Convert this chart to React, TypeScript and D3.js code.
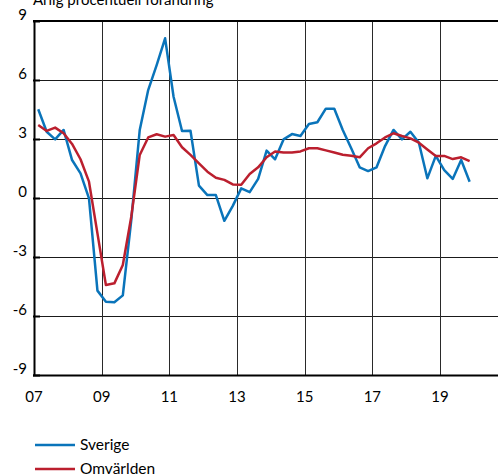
import React from "react";
import * as d3 from "d3";

const yearTicks = [2007, 2009, 2011, 2013, 2015, 2017, 2019];
const yearLabels = ["07", "09", "11", "13", "15", "17", "19"];
const valueTicks = [-9, -6, -3, 0, 3, 6, 9];
const sverige = [4.51, 3.37, 2.98, 3.46, 1.93, 1.25, -0.02, -4.71, -5.27, -5.3, -4.95, -1.12, 3.46, 5.49, 6.76, 8.12, 5.15, 3.41, 3.42, 0.63, 0.15, 0.15, -1.16, -0.4, 0.49, 0.3, 0.97, 2.41, 1.97, 2.98, 3.25, 3.15, 3.76, 3.85, 4.54, 4.54, 3.46, 2.53, 1.56, 1.37, 1.56, 2.64, 3.46, 2.98, 3.37, 2.81, 1.0, 2.14, 1.42, 0.97, 1.93, 0.83];
const omvarlden = [3.71, 3.41, 3.58, 3.29, 2.75, 1.97, 0.83, -1.8, -4.42, -4.34, -3.41, -0.95, 2.19, 3.08, 3.24, 3.12, 3.2, 2.58, 2.19, 1.76, 1.34, 1.03, 0.92, 0.69, 0.67, 1.22, 1.56, 2.07, 2.36, 2.31, 2.31, 2.37, 2.53, 2.53, 2.42, 2.31, 2.2, 2.15, 2.07, 2.53, 2.78, 3.08, 3.29, 3.15, 3.03, 2.81, 2.47, 2.14, 2.14, 1.98, 2.07, 1.88];
const seriesNames = ["Sverige", "Omvärlden"];
const seriesColors = ["#0a74ba", "#bb1f2e"];
const titleText = "Årlig procentuell förändring";

const W = 498;
const H = 475;
const FONT = "Lato, 'Open Sans', sans-serif";

export default function App() {
  const x = d3.scaleLinear().domain([2007, 2021]).range([34, 507.7]);
  const y = d3.scaleLinear().domain([-9, 9]).range([375, 21]);
  const t = (i: number) => 2007 + 0.125 + 0.25 * i;
  const line = d3
    .line<number>()
    .x((_, i) => x(t(i)))
    .y((d) => y(d));
  const all = [sverige, omvarlden];
  return (
    <svg
      width={W}
      height={H}
      style={{ position: "absolute", left: 0, top: 0, background: "#fff" }}
      fontFamily={FONT}
    >
      <text x={33} y={5} fontSize={15} fill="#000">
        {titleText}
      </text>
      {valueTicks.map((v) => (
        <g key={v}>
          <line x1={34} x2={W} y1={Math.round(y(v)) + 0.5} y2={Math.round(y(v)) + 0.5} stroke="#1a1a1a" strokeWidth={1} />
          <line x1={33} x2={40} y1={Math.round(y(v)) + 0.5} y2={Math.round(y(v)) + 0.5} stroke="#000" strokeWidth={2} />
          <text x={27} y={y(v)} dy="-0.05em" fontSize={15} textAnchor="end" fill="#000">
            {v}
          </text>
        </g>
      ))}
      {yearTicks.map((yr, i) => (
        <g key={yr}>
          <line x1={Math.round(x(yr)) + 0.5} x2={Math.round(x(yr)) + 0.5} y1={21} y2={375} stroke={i === 0 ? "#000" : "#2a2a2a"} strokeWidth={i === 0 ? 2 : 1} />
          <text x={x(yr)} y={402} fontSize={15} textAnchor="middle" fill="#000">
            {yearLabels[i]}
          </text>
        </g>
      ))}
      <line x1={33} x2={W} y1={375.5} y2={375.5} stroke="#000" strokeWidth={2} />
      <line x1={33} x2={W} y1={21} y2={21} stroke="#000" strokeWidth={2} />
      {all.map((s, k) => (
        <path key={k} d={line(s) || ""} fill="none" stroke={seriesColors[k]} strokeWidth={2.5} strokeLinejoin="round" />
      ))}
      {seriesNames.map((n, k) => (
        <g key={n}>
          <line x1={35} x2={75} y1={445 + k * 24} y2={445 + k * 24} stroke={seriesColors[k]} strokeWidth={2.5} />
          <text x={80} y={445 + k * 24} dy="0.33em" fontSize={15.5} fill="#000">
            {n}
          </text>
        </g>
      ))}
    </svg>
  );
}
